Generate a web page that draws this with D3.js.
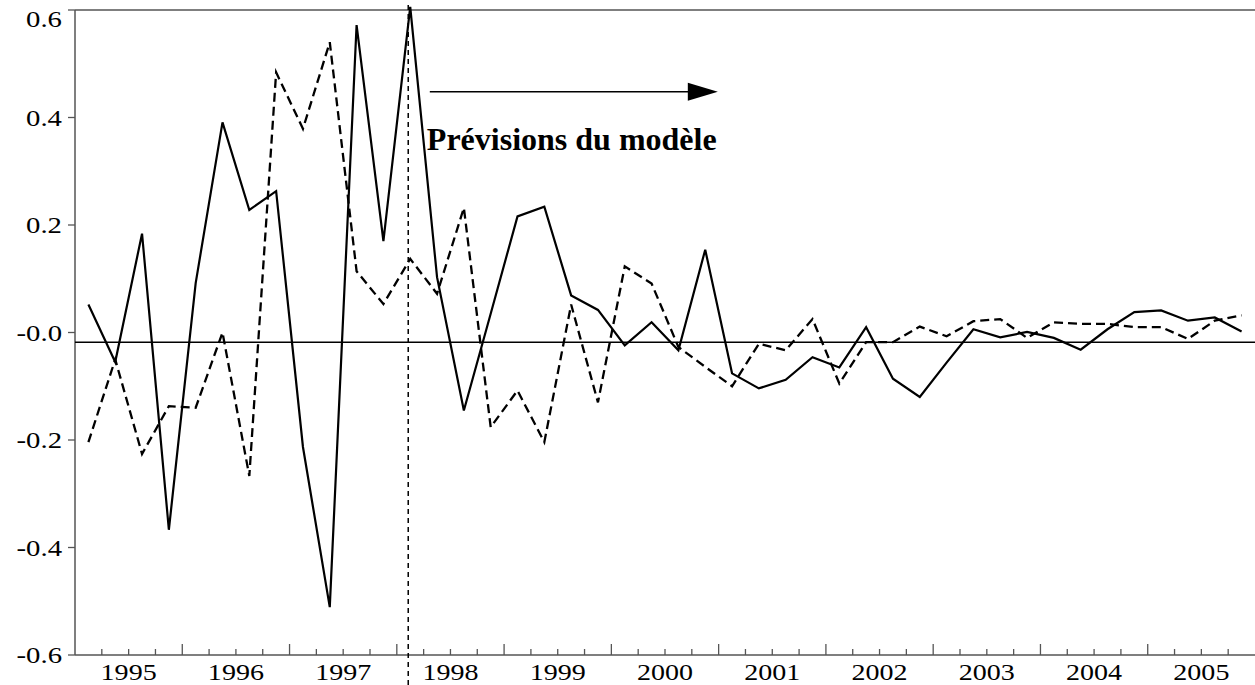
<!DOCTYPE html>
<html>
<head>
<meta charset="utf-8">
<script src="https://cdn.jsdelivr.net/npm/d3@7"></script>
<style>
  html, body { margin: 0; padding: 0; background: #fff; }
  svg { display: block; }
</style>
</head>
<body>
<svg id="chart"></svg>
<script>
// quarterly series, 1995Q1 .. 2005Q4
const years = [1995, 1996, 1997, 1998, 1999, 2000, 2001, 2002, 2003, 2004, 2005];
const yTicks = [0.6, 0.4, 0.2, 0, -0.2, -0.4, -0.6];

const observed = [
  0.052, -0.055, 0.184, -0.367, 0.092, 0.391, 0.228, 0.263,
  -0.213, -0.511, 0.572, 0.170, 0.606, 0.103, -0.145, 0.035,
  0.216, 0.234, 0.069, 0.042, -0.024, 0.019, -0.033, 0.154,
  -0.076, -0.104, -0.088, -0.046, -0.065, 0.010, -0.086, -0.120,
  -0.056, 0.006, -0.009, 0.001, -0.010, -0.032, 0.006, 0.038,
  0.041, 0.022, 0.028, 0.002
];
const fitted = [
  -0.204, -0.050, -0.226, -0.137, -0.140, 0.000, -0.267, 0.484,
  0.379, 0.540, 0.114, 0.053, 0.137, 0.072, 0.232, -0.176,
  -0.108, -0.204, 0.052, -0.130, 0.123, 0.091, -0.027, -0.064,
  -0.100, -0.021, -0.033, 0.025, -0.095, -0.018, -0.018, 0.011,
  -0.007, 0.021, 0.025, -0.010, 0.019, 0.016, 0.016, 0.010,
  0.010, -0.012, 0.022, 0.032
];
const refLevel = -0.018;     // horizontal reference line
const forecastStart = 12;    // 1998Q1

const width = 1255, height = 685;
const margin = { top: 10, right: 0, bottom: 30, left: 75 };

const svg = d3.select("#chart").attr("width", width).attr("height", height);

// x in quarter units
const x = d3.scaleLinear().domain([0, years.length * 4]).range([margin.left, width - margin.right]);
const y = d3.scaleLinear().domain([-0.6, 0.6]).range([height - margin.bottom, margin.top]);
const px = (i) => x(i + 0.5);

const axisColor = "#555";
const labelFont = "'Liberation Serif', 'Times New Roman', serif";

// frame: top, left, bottom
svg.append("line")
  .attr("x1", x(0)).attr("x2", x.range()[1])
  .attr("y1", y(0.6)).attr("y2", y(0.6))
  .attr("stroke", axisColor).attr("stroke-width", 1.5);
svg.append("line")
  .attr("x1", x(0)).attr("x2", x(0))
  .attr("y1", y(0.6)).attr("y2", y(-0.6))
  .attr("stroke", axisColor).attr("stroke-width", 1.5);
svg.append("line")
  .attr("x1", x(0)).attr("x2", x.range()[1])
  .attr("y1", y(-0.6)).attr("y2", y(-0.6))
  .attr("stroke", axisColor).attr("stroke-width", 1.5);

// y ticks + labels
svg.selectAll(".ytick").data(yTicks).enter().append("line")
  .attr("class", "ytick")
  .attr("x1", x(0) - 7).attr("x2", x(0))
  .attr("y1", (d) => y(d)).attr("y2", (d) => y(d))
  .attr("stroke", axisColor).attr("stroke-width", 1.3);

svg.selectAll(".ylabel").data(yTicks).enter().append("text")
  .attr("class", "ylabel")
  .attr("transform", (d) => `translate(62, ${Math.max(y(d), 19)}) scale(1.25,1)`)
  .attr("dy", "0.35em")
  .attr("text-anchor", "end")
  .style("font-family", labelFont)
  .style("font-size", "23px")
  .text((d) => (d <= 0 ? "-" + Math.abs(d).toFixed(1) : d.toFixed(1)));

// x ticks: quarters inside, years taller
const qTicks = d3.range(1, years.length * 4);
svg.selectAll(".xtick").data(qTicks).enter().append("line")
  .attr("class", "xtick")
  .attr("x1", (d) => x(d)).attr("x2", (d) => x(d))
  .attr("y1", y(-0.6))
  .attr("y2", (d) => y(-0.6) - (d % 4 === 0 ? 11 : 6))
  .attr("stroke", axisColor).attr("stroke-width", 1.3);

svg.selectAll(".xlabel").data(years).enter().append("text")
  .attr("class", "xlabel")
  .attr("transform", (d, i) => `translate(${x(i * 4 + 2)}, 680) scale(1.22,1)`)
  .attr("text-anchor", "middle")
  .style("font-family", labelFont)
  .style("font-size", "23px")
  .text((d) => d);

// reference line
svg.append("line")
  .attr("x1", x(0)).attr("x2", x.range()[1])
  .attr("y1", y(refLevel)).attr("y2", y(refLevel))
  .attr("stroke", "#000").attr("stroke-width", 1.5);

// forecast start marker
svg.append("line")
  .attr("x1", px(forecastStart) - 2).attr("x2", px(forecastStart) - 2)
  .attr("y1", 5).attr("y2", height)
  .attr("stroke", "#000").attr("stroke-width", 1.5)
  .attr("stroke-dasharray", "5,4");

const line = d3.line().x((d, i) => px(i)).y((d) => y(d));

svg.append("path")
  .datum(fitted)
  .attr("d", line)
  .attr("fill", "none")
  .attr("stroke", "#000")
  .attr("stroke-width", 2.3)
  .attr("stroke-dasharray", "9,5");

svg.append("path")
  .datum(observed)
  .attr("d", line)
  .attr("fill", "none")
  .attr("stroke", "#000")
  .attr("stroke-width", 2.2)
  .attr("stroke-linejoin", "miter");

// annotation arrow
const arrowY = y(0.448);
const ax1 = x(13.23), ax2 = x(23.97);
svg.append("line")
  .attr("x1", ax1).attr("x2", ax2 - 28)
  .attr("y1", arrowY).attr("y2", arrowY)
  .attr("stroke", "#000").attr("stroke-width", 1.6);
svg.append("path")
  .attr("d", `M${ax2 - 30},${arrowY - 9} L${ax2},${arrowY} L${ax2 - 30},${arrowY + 9} Z`)
  .attr("fill", "#000");

svg.append("text")
  .attr("x", x(13.12))
  .attr("y", y(0.339))
  .style("font-family", labelFont)
  .style("font-weight", "bold")
  .style("font-size", "32px")
  .text("Prévisions du modèle");
</script>
</body>
</html>
